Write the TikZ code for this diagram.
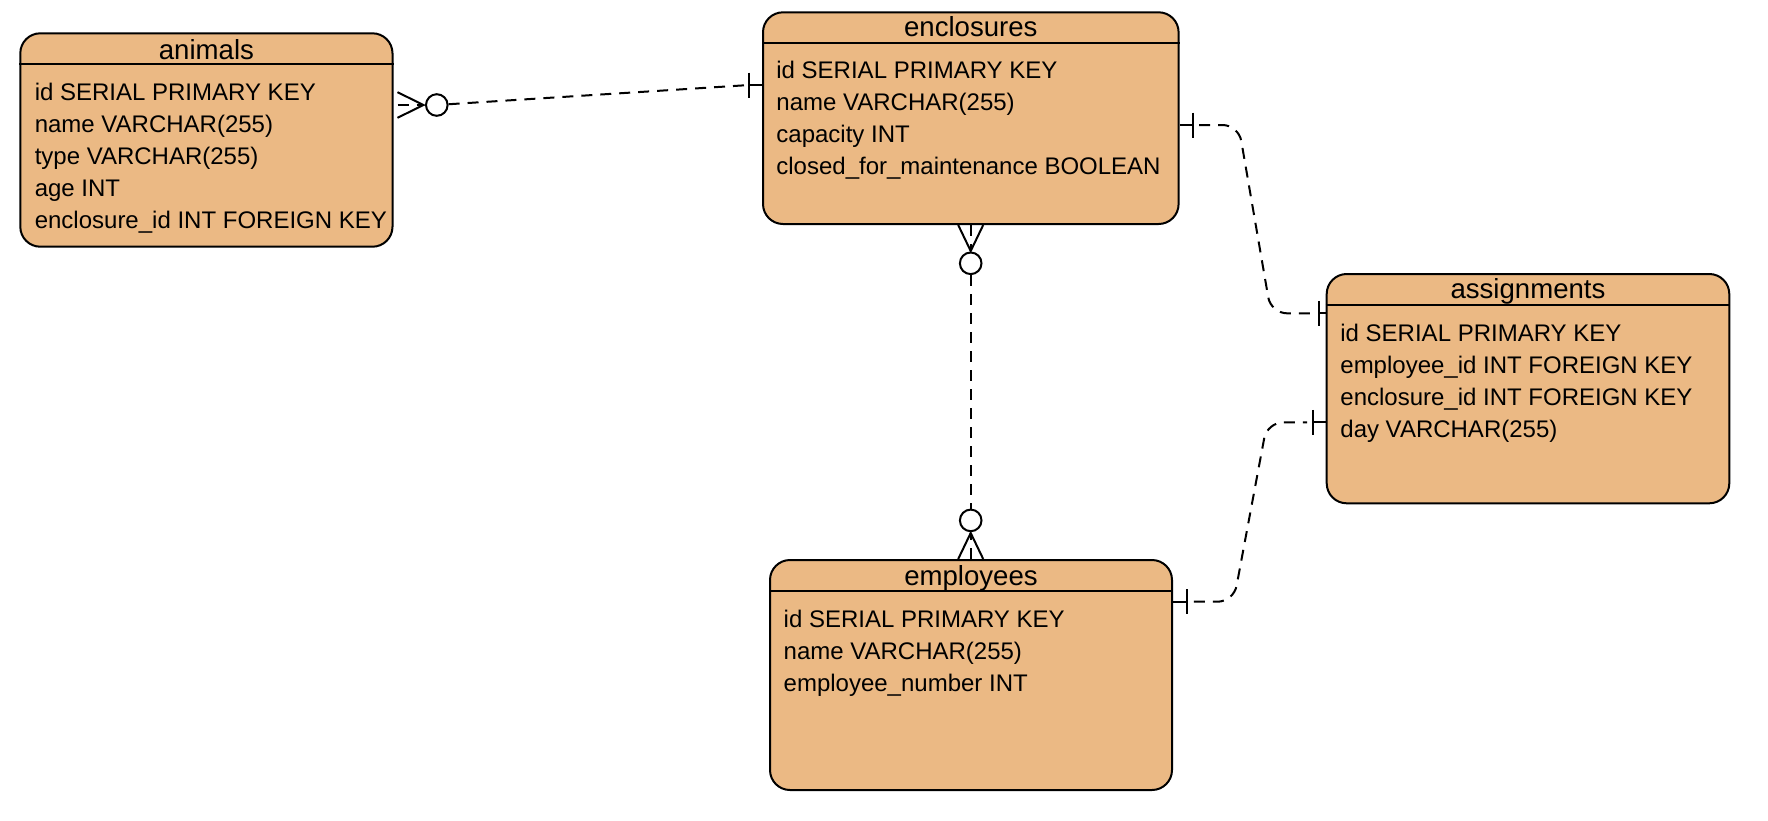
\documentclass[tikz,border=0pt]{standalone}
\usepackage{fontspec}
\setmainfont{Liberation Sans}
\usetikzlibrary{positioning,calc,fit}
\definecolor{tablefill}{RGB}{235,185,132}

\begin{document}
\begin{tikzpicture}[x=0.5pt, y=-0.5pt,
        entity/.style={draw, line width=1pt, rounded corners=10pt, fill=tablefill, inner sep=0pt},
        entitytitle/.style={anchor=base, inner sep=0pt, font=\fontsize{13.8}{16}\selectfont},
        attrs/.style={anchor=base west, inner sep=0pt, align=left, font=\fontsize{12}{16}\selectfont},
        rel/.style={line width=1pt, dash pattern=on 5.5pt off 4pt},
        relend/.style={line width=1pt},
        zero/.style={circle, draw, fill=white, line width=1pt, minimum size=10.8pt, inner sep=0pt}]
        \useasboundingbox (0,0) rectangle (1768,820);

        % tables (attrs are placed by the baseline of their last row)
        \node[entity, fit={(20.3,33.3) (392.5,246.7)}] (animals) {};
        \node[entitytitle] (animals-title) at (206.4,59.3) {animals};
        \draw[line width=1pt] ([yshift=-16pt]animals.north west) -- ([yshift=-16pt]animals.north east);
        \node[attrs] (animals-attrs) at (34.4,228.7) {id SERIAL PRIMARY KEY\\name VARCHAR(255)\\type VARCHAR(255)\\age INT\\enclosure\_id INT FOREIGN KEY};

        \node[entity, fit={(763,12.3) (1178.6,224)}] (enclosures) {};
        \node[entitytitle] (enclosures-title) at (970.8,36) {enclosures};
        \draw[line width=1pt] ([yshift=-16pt]enclosures.north west) -- ([yshift=-16pt]enclosures.north east);
        \node[attrs] (enclosures-attrs) at (776,174.7) {id SERIAL PRIMARY KEY\\name VARCHAR(255)\\capacity INT\\closed\_for\_maintenance BOOLEAN};

        \node[entity, fit={(1326.7,274) (1729.3,503.3)}] (assignments) {};
        \node[entitytitle] (assignments-title) at (1528,298.3) {assignments};
        \draw[line width=1pt] ([yshift=-16pt]assignments.north west) -- ([yshift=-16pt]assignments.north east);
        \node[attrs] (assignments-attrs) at (1340,437) {id SERIAL PRIMARY KEY\\employee\_id INT FOREIGN KEY\\enclosure\_id INT FOREIGN KEY\\day VARCHAR(255)};

        \node[entity, fit={(770,560) (1172,790)}] (employees) {};
        \node[entitytitle] (employees-title) at (971,585) {employees};
        \draw[line width=1pt] ([yshift=-16pt]employees.north west) -- ([yshift=-16pt]employees.north east);
        \node[attrs] (employees-attrs) at (783.3,691.3) {id SERIAL PRIMARY KEY\\name VARCHAR(255)\\employee\_number INT};

        % animals -- enclosures
        \coordinate (animals-port) at (animals.east |- 0,105);
        \coordinate (enclosures-port-w) at (enclosures.west |- 0,85);
        \node[zero] (animals-zero) at ($(animals-port)+(43.3,0)$) {};
        \draw[relend] ($(animals-port)+(4,-12.8)$) -- ($(animals-port)+(30,0)$) -- ($(animals-port)+(4,12.8)$);
        \draw[rel] ($(animals-port)+(4,0)$) -- ($(animals-port)+(30,0)$);
        \coordinate (enclosures-one-w) at ($(enclosures-port-w)+(-12.7,0)$);
        \draw[relend] ($(enclosures-one-w)+(0,-12.5)$) -- ($(enclosures-one-w)+(0,12.5)$);
        \draw[relend] (enclosures-one-w) -- (enclosures-port-w);
        \draw[rel] (animals-zero) -- (enclosures-one-w);

        % enclosures -- employees
        \coordinate (enclosures-port-s) at (970.7,0 |- enclosures.south);
        \coordinate (employees-port-n) at (970.7,0 |- employees.north);
        \node[zero] (enclosures-zero) at ($(enclosures-port-s)+(0,38.3)$) {};
        \node[zero] (employees-zero) at ($(employees-port-n)+(0,-38.6)$) {};
        \draw[relend] ($(enclosures-port-s)+(-12.5,0)$) -- ($(enclosures-port-s)+(0,26)$) -- ($(enclosures-port-s)+(12.5,0)$);
        \draw[rel] (enclosures-port-s) -- ($(enclosures-port-s)+(0,26)$);
        \draw[relend] ($(employees-port-n)+(-12.5,0)$) -- ($(employees-port-n)+(0,-26)$) -- ($(employees-port-n)+(12.5,0)$);
        \draw[rel] (employees-port-n) -- ($(employees-port-n)+(0,-26)$);
        \draw[rel] (enclosures-zero) -- (employees-zero);

        % enclosures -- assignments
        \coordinate (enclosures-port-e) at (enclosures.east |- 0,125);
        \coordinate (assignments-port-w1) at (assignments.west |- 0,313.3);
        \coordinate (enclosures-one-e) at ($(enclosures-port-e)+(13,0)$);
        \coordinate (assignments-one-w1) at ($(assignments-port-w1)+(-6.7,0)$);
        \draw[relend] (enclosures-port-e) -- (enclosures-one-e);
        \draw[relend] ($(enclosures-one-e)+(0,-12.5)$) -- ($(enclosures-one-e)+(0,12.5)$);
        \draw[relend] (assignments-one-w1) -- (assignments-port-w1);
        \draw[relend] ($(assignments-one-w1)+(0,-12.5)$) -- ($(assignments-one-w1)+(0,12.5)$);
        \draw[rel, dash phase=6.2pt, shorten >=3pt, rounded corners=8pt] (enclosures-one-e) -- (1238.5,125) -- (1271,313.3) -- (assignments-one-w1);

        % employees -- assignments
        \coordinate (employees-port-e) at (employees.east |- 0,601.7);
        \coordinate (assignments-port-w2) at (assignments.west |- 0,422.3);
        \coordinate (employees-one-e) at ($(employees-port-e)+(14.3,0)$);
        \coordinate (assignments-one-w2) at ($(assignments-port-w2)+(-12.7,0)$);
        \draw[relend] (employees-port-e) -- (employees-one-e);
        \draw[relend] ($(employees-one-e)+(0,-12.5)$) -- ($(employees-one-e)+(0,12.5)$);
        \draw[relend] (assignments-one-w2) -- (assignments-port-w2);
        \draw[relend] ($(assignments-one-w2)+(0,-12.5)$) -- ($(assignments-one-w2)+(0,12.5)$);
        \draw[rel, dash phase=6.2pt, shorten >=3pt, rounded corners=8pt] (employees-one-e) -- (1233.6,601.7) -- (1267.2,422.3) -- (assignments-one-w2);
    \end{tikzpicture}
\end{document}
